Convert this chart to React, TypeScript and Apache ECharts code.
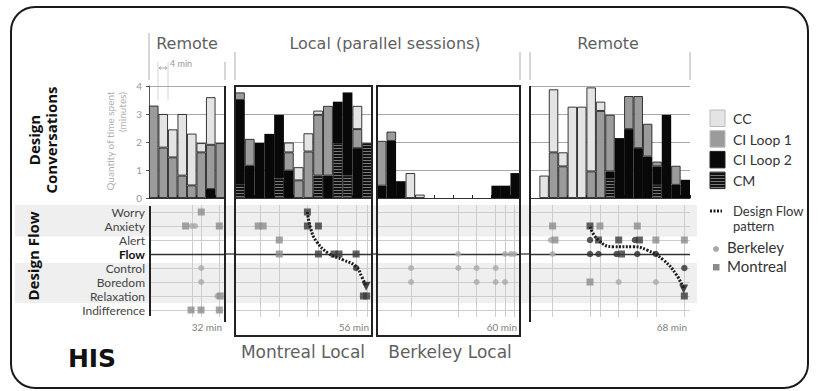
import React, { useEffect, useRef } from "react";
import * as echarts from "echarts";

// ---------- labels ----------
const flowStates = ["Worry", "Anxiety", "Alert", "Flow", "Control", "Boredom", "Relaxation", "Indifference"];
const conversationTypes = ["CM", "CI Loop 2", "CI Loop 1", "CC"]; // stacking order, bottom to top
const legendOrder = ["CC", "CI Loop 1", "CI Loop 2", "CM"];
const quantityTicks = [0, 1, 2, 3, 4];
const sessionMinutes = [32, 56, 60, 68];
const topTitles = ["Remote", "Local (parallel sessions)", "Remote"];
const bottomTitles = ["Montreal Local", "Berkeley Local"];
const sourceLabels = ["Berkeley", "Montreal"];

// ---------- Design conversations (minutes per 4-min slot) ----------
const remoteA_CM = [0, 0, 0, 0, 0, 0, 0, 0];
const remoteA_CI2 = [0, 0, 0, 0, 0, 0, 0.32, 0];
const remoteA_CI1 = [3.3, 1.8, 1.45, 0.8, 0.45, 1.63, 1.58, 1.96];
const remoteA_CC = [0, 1.2, 1.0, 2.2, 1.85, 0.33, 1.7, 0];

const montreal_CM = [0.5, 0, 0, 0, 0.7, 0, 0, 0, 0.8, 0, 1.96, 0.8, 0, 1.96];
const montreal_CI2 = [3.0, 1.15, 1.96, 2.29, 2.27, 0.98, 0, 0, 0, 0.8, 1.48, 2.97, 1.78, 0];
const montreal_CI1 = [0.27, 0.96, 0, 0, 0, 0.65, 0.63, 1.66, 2.17, 2.49, 0, 0, 0.68, 0];
const montreal_CC = [0, 0, 0, 0, 0, 0.35, 0.47, 0.65, 0.15, 0, 0, 0, 0.83, 0];

const berkeley_CM = [0, 0, 0, 0, 0, 0, 0, 0, 0, 0, 0, 0, 0, 0, 0];
const berkeley_CI2 = [0.44, 2.04, 0.6, 0, 0, 0, 0, 0, 0, 0, 0, 0, 0.44, 0.44, 0.89];
const berkeley_CI1 = [1.6, 0.33, 0, 0, 0, 0, 0, 0, 0, 0, 0, 0, 0, 0, 0];
const berkeley_CC = [0, 0, 0, 0.89, 0.12, 0, 0, 0, 0, 0, 0, 0, 0, 0, 0];

const remoteB_CM = [0, 0, 0, 0, 0, 0, 0, 0, 0.7, 0, 0, 0, 0, 0.47, 0, 0, 0];
const remoteB_CI2 = [0, 0, 0, 0, 0, 0, 0, 0, 0.25, 2.14, 2.46, 1.78, 1.48, 0.66, 2.97, 0.47, 0.65];
const remoteB_CI1 = [0, 0, 1.63, 1.13, 0, 0, 0.95, 3.11, 2.02, 0, 1.18, 1.86, 1.17, 0.17, 0, 0.68, 0];
const remoteB_CC = [0, 0.8, 2.25, 0.5, 3.26, 3.26, 3.0, 0.33, 0, 0, 0, 0, 0, 0, 0, 0, 0];

// ---------- Design flow events: [minute, state] ----------
const remoteA_berkeley = [[18, "Anxiety"], [19.4, "Anxiety"], [22, "Control"], [22, "Boredom"], [28.8, "Relaxation"]];
const remoteA_montreal = [[22, "Worry"], [15.4, "Anxiety"], [29.6, "Anxiety"], [30, "Relaxation"], [17.7, "Indifference"], [21.9, "Indifference"], [29.6, "Indifference"]];
const remoteA_gridMinutes = [18, 22, 29.6];

const montreal_montreal = [[9.5, "Anxiety"], [11.5, "Anxiety"], [18.1, "Alert"], [18.1, "Flow"]];
const montreal_patternSquares = [[29.6, "Worry"], [29.6, "Anxiety"], [34.1, "Anxiety"], [34.1, "Flow"], [40.5, "Flow"], [42.5, "Flow"], [49.5, "Flow"], [52.5, "Relaxation"], [53.8, "Relaxation"]];
const montreal_patternCircles = [[49.5, "Control"]];
const montreal_curve = [[29.6, 7], [30.9, 5.83], [33.4, 4.88], [38.2, 4.05], [44.3, 3.57], [49.5, 3.1], [51.8, 2.38], [53.6, 1.7]];
const montreal_gridMinutes = [10.5, 18.1, 29.6, 34.1, 41.6, 49.5, 53.9];

const berkeley_berkeley = [[34.1, "Flow"], [53.7, "Flow"], [56.1, "Flow"], [57.5, "Flow"], [14.3, "Control"], [34.1, "Control"], [41.8, "Control"], [49.8, "Control"], [14.3, "Boredom"], [41.8, "Boredom"], [49.8, "Boredom"], [53.7, "Boredom"]];
const berkeley_gridMinutes = [14.3, 34.1, 41.8, 49.8, 53.7, 57.5];

const remoteB_montreal = [[9.6, "Anxiety"], [29.7, "Anxiety"], [45.6, "Anxiety"], [10.6, "Alert"], [53.5, "Alert"], [65.6, "Alert"], [25.5, "Boredom"]];
const remoteB_berkeley = [[8.8, "Alert"], [9.6, "Flow"], [37.7, "Boredom"], [53.5, "Boredom"]];
const remoteB_patternCircles = [[25.5, "Alert"], [44.6, "Alert"], [25.5, "Flow"], [29.1, "Flow"], [36.8, "Flow"], [45.6, "Flow"], [53.5, "Flow"], [65.6, "Control"]];
const remoteB_patternSquares = [[25.5, "Anxiety"], [29.1, "Alert"], [37.7, "Alert"], [46.5, "Alert"], [38.9, "Flow"], [65.6, "Relaxation"]];
const remoteB_curve = [[25.5, 5.95], [29.0, 5.0], [35.4, 4.52], [43.8, 4.52], [49.6, 4.29], [56.7, 3.57], [62.3, 2.5], [65.3, 1.5]];
const remoteB_gridMinutes = [9.6, 25.5, 29.7, 37.7, 45.6, 53.5, 65.6];

// ---------- layout ----------
const PANEL_X = [[149, 225], [235, 372], [377, 520], [530, 690]];
const BAR_TOP = 86, BAR_H = 112;
const SC_TOP = 205, SC_H = 112;
const SC_MIN = -0.5, SC_MAX = 7.5;
const rowY = (v: number) => SC_TOP + ((SC_MAX - v) / (SC_MAX - SC_MIN)) * SC_H;
const stateValue = (s: string) => flowStates.length - 1 - flowStates.indexOf(s);
const toPts = (arr: any[]) => arr.map((d) => [d[0], stateValue(d[1])]);

export default function App() {
  const ref = useRef<HTMLDivElement>(null);

  useEffect(() => {
    if (!ref.current) return;
    const chart = echarts.init(ref.current, null, { renderer: "svg" });

    const cv = document.createElement("canvas");
    cv.width = 4; cv.height = 3;
    const ctx = cv.getContext("2d")!;
    ctx.fillStyle = "#111"; ctx.fillRect(0, 0, 4, 3);
    ctx.fillStyle = "#7a7a7a"; ctx.fillRect(0, 1, 4, 1);
    const cmPattern: any = { image: cv, repeat: "repeat" };

    const typeColor: Record<string, any> = { CM: cmPattern, "CI Loop 2": "#080808", "CI Loop 1": "#9b9b9b", CC: "#e4e4e4" };

    const panels = [
      { bars: [remoteA_CM, remoteA_CI2, remoteA_CI1, remoteA_CC], berkeley: remoteA_berkeley, montreal: remoteA_montreal, patC: [], patS: [], curve: null as any, grid: remoteA_gridMinutes },
      { bars: [montreal_CM, montreal_CI2, montreal_CI1, montreal_CC], berkeley: [], montreal: montreal_montreal, patC: montreal_patternCircles, patS: montreal_patternSquares, curve: montreal_curve, grid: montreal_gridMinutes },
      { bars: [berkeley_CM, berkeley_CI2, berkeley_CI1, berkeley_CC], berkeley: berkeley_berkeley, montreal: [], patC: [], patS: [], curve: null as any, grid: berkeley_gridMinutes },
      { bars: [remoteB_CM, remoteB_CI2, remoteB_CI1, remoteB_CC], berkeley: remoteB_berkeley, montreal: remoteB_montreal, patC: remoteB_patternCircles, patS: remoteB_patternSquares, curve: remoteB_curve, grid: remoteB_gridMinutes },
    ];

    const grids: any[] = [], xAxes: any[] = [], yAxes: any[] = [], series: any[] = [];
    const rowValues = flowStates.map((_, i) => i);

    panels.forEach((p, i) => {
      const [x0, x1] = PANEL_X[i];
      grids.push({ left: x0, top: BAR_TOP, width: x1 - x0, height: BAR_H, containLabel: false, outerBoundsMode: "none" });
      xAxes.push({
        type: "category", gridIndex: i, data: p.bars[0].map((_, k) => String(k)), boundaryGap: true,
        axisLabel: { show: false }, axisTick: { show: true, inside: true, length: 3, lineStyle: { color: "#222" } },
        axisLine: { show: true, lineStyle: { color: "#333", width: 1.2 } }, splitLine: { show: false },
      });
      yAxes.push({
        type: "value", gridIndex: i, min: 0, max: quantityTicks[quantityTicks.length - 1], interval: 1,
        axisLabel: { show: i === 0, color: "#9a9a9a", fontSize: 10, fontFamily: "Lato", margin: 7 },
        axisTick: { show: i === 0, length: 3, lineStyle: { color: "#555" } },
        axisLine: { show: i === 0, lineStyle: { color: "#555", width: 1 } },
        splitLine: { show: true, lineStyle: { color: "#a8a8a8", width: 1 } },
      });
      p.bars.forEach((arr, k) => {
        const name = conversationTypes[k];
        series.push({
          type: "bar", name, xAxisIndex: i, yAxisIndex: i, stack: "s" + i,
          data: arr.map((v) => (v > 0 ? v : null)), barCategoryGap: "0%", barGap: "0%", silent: true,
          itemStyle: { color: typeColor[name], borderColor: "#222", borderWidth: name === "CI Loop 2" ? 0 : 0.9 },
        });
      });
    });

    panels.forEach((p, i) => {
      const [x0, x1] = PANEL_X[i];
      const gi = 4 + i;
      grids.push({ left: x0, top: SC_TOP, width: x1 - x0, height: SC_H, containLabel: false, outerBoundsMode: "none" });
      xAxes.push({ type: "value", gridIndex: gi, min: 0, max: sessionMinutes[i], show: false });
      yAxes.push({
        type: "value", gridIndex: gi, min: SC_MIN, max: SC_MAX,
        axisLine: { show: false }, axisTick: { show: false }, splitLine: { show: false },
        axisLabel: {
          show: i === 0, customValues: rowValues, margin: 4, fontFamily: "Lato", fontSize: 12, color: "#444",
          formatter: (v: number) => {
            const s = flowStates[flowStates.length - 1 - Math.round(v)];
            return s === "Flow" ? `{b|${s}}` : s;
          },
          rich: { b: { fontWeight: "bold", fontFamily: "Lato", fontSize: 12, color: "#111" } },
        },
      });
      series.push({
        type: "scatter", xAxisIndex: gi, yAxisIndex: gi, data: [], silent: true, z: 1,
        markLine: {
          silent: true, symbol: "none", label: { show: false }, z: 1,
          data: [
            ...p.grid.map((t) => ({ xAxis: t, lineStyle: { color: "#cdcdcd", width: 1, type: "solid" } })),
            ...rowValues.map((v) => ({ yAxis: v, lineStyle: { color: v === stateValue("Flow") ? "#333" : "#cdcdcd", width: v === stateValue("Flow") ? 1.3 : 1, type: "solid" } })),
          ],
        },
      });
      series.push({ type: "scatter", name: "Berkeley", xAxisIndex: gi, yAxisIndex: gi, data: toPts(p.berkeley), symbol: "circle", symbolSize: 6, itemStyle: { color: "#a9a9a9" }, silent: true, z: 6 });
      series.push({ type: "scatter", name: "Montreal", xAxisIndex: gi, yAxisIndex: gi, data: toPts(p.montreal), symbol: "rect", symbolSize: 7, itemStyle: { color: "#8c8c8c" }, silent: true, z: 6 });
      series.push({ type: "scatter", xAxisIndex: gi, yAxisIndex: gi, data: toPts(p.patC), symbol: "circle", symbolSize: 6.5, itemStyle: { color: "#2e2e2e" }, silent: true, z: 7 });
      series.push({ type: "scatter", xAxisIndex: gi, yAxisIndex: gi, data: toPts(p.patS), symbol: "rect", symbolSize: 7, itemStyle: { color: "#3a3a3a" }, silent: true, z: 7 });
      if (p.curve) {
        series.push({
          type: "line", xAxisIndex: gi, yAxisIndex: gi, data: p.curve, smooth: 0.5, symbol: "none", silent: true, z: 8,
          lineStyle: { color: "#1c1c1c", width: 3, type: [2, 1.5] },
        });
        series.push({
          type: "scatter", xAxisIndex: gi, yAxisIndex: gi, data: [p.curve[p.curve.length - 1]], symbol: "triangle",
          symbolRotate: 180, symbolSize: [9, 9], itemStyle: { color: "#1c1c1c" }, silent: true, z: 9,
        });
      }
    });

    const gray = "#c8c8c8";
    const g: any[] = [];
    // background bands
    g.push({ type: "rect", z: -10, shape: { x: 15, y: rowY(7.5), width: 682, height: rowY(5.25) - rowY(7.5) }, style: { fill: "#efefef" } });
    g.push({ type: "rect", z: -10, shape: { x: 15, y: rowY(3.35), width: 682, height: rowY(0.5) - rowY(3.35) }, style: { fill: "#efefef" } });
    // outer border
    g.push({ type: "rect", z: 50, shape: { x: 11, y: 7, width: 797, height: 381, r: 24 }, style: { fill: "none", stroke: "#1a1a1a", lineWidth: 2 } });
    // top titles
    const titleX = [187, 385, 608];
    topTitles.forEach((t, k) => g.push({ type: "text", x: titleX[k], y: 43, style: { text: t, align: "center", verticalAlign: "middle", font: "16px 'DejaVu Sans'", fill: "#5f5f5f" } }));
    // bracket lines
    [[149, 33], [225, 62], [235, 52], [520, 52], [530, 52], [690, 52]].forEach(([x, y0]) =>
      g.push({ type: "line", shape: { x1: x, y1: y0, x2: x, y2: 80 }, style: { stroke: gray, lineWidth: 1.5 } }));
    // 4 min annotation
    [158, 168].forEach((x) => g.push({ type: "line", shape: { x1: x, y1: 62, x2: x, y2: 100 }, style: { stroke: "#d4d4d4", lineWidth: 1 } }));
    g.push({ type: "line", shape: { x1: 159, y1: 68, x2: 167, y2: 68 }, style: { stroke: "#999", lineWidth: 0.8 } });
    g.push({ type: "polyline", shape: { points: [[161, 66.5], [159, 68], [161, 69.5]] }, style: { stroke: "#999", lineWidth: 0.8, fill: "none" } });
    g.push({ type: "polyline", shape: { points: [[165, 66.5], [167, 68], [165, 69.5]] }, style: { stroke: "#999", lineWidth: 0.8, fill: "none" } });
    g.push({ type: "text", x: 170, y: 63, style: { text: "4 min", align: "left", verticalAlign: "middle", font: "9px Lato", fill: "#999" } });
    // y axis title
    g.push({ type: "text", x: 110, y: 141, rotation: Math.PI / 2, style: { text: "Quantity of time spent", align: "center", verticalAlign: "middle", font: "10px Lato", fill: "#b0b0b0" } });
    g.push({ type: "text", x: 122, y: 112, rotation: Math.PI / 2, style: { text: "(minutes)", align: "center", verticalAlign: "middle", font: "10px Lato", fill: "#b0b0b0" } });
    // section labels
    g.push({ type: "text", x: 42, y: 140, rotation: Math.PI / 2, style: { text: "Design\nConversations", align: "center", verticalAlign: "middle", font: "bold 15px 'Open Sans'", lineHeight: 17, fill: "#111" } });
    g.push({ type: "text", x: 33, y: 256, rotation: Math.PI / 2, style: { text: "Design Flow", align: "center", verticalAlign: "middle", font: "bold 15px 'Open Sans'", fill: "#111" } });
    g.push({ type: "text", x: 92, y: 358, style: { text: "HIS", align: "center", verticalAlign: "middle", font: "bold 25px 'DejaVu Sans'", fill: "#111" } });
    // panel borders
    g.push({ type: "line", z: 20, shape: { x1: 225, y1: 86, x2: 225, y2: 322 }, style: { stroke: "#222", lineWidth: 2 } });
    g.push({ type: "line", z: 20, shape: { x1: 530, y1: 86, x2: 530, y2: 322 }, style: { stroke: "#222", lineWidth: 2 } });
    g.push({ type: "line", z: 20, shape: { x1: 150, y1: 206, x2: 150, y2: 316 }, style: { stroke: "#222", lineWidth: 2 } });
    g.push({ type: "rect", z: 20, shape: { x: 235, y: 86, width: 137, height: 250 }, style: { fill: "none", stroke: "#222", lineWidth: 2 } });
    g.push({ type: "rect", z: 20, shape: { x: 377, y: 86, width: 143, height: 250 }, style: { fill: "none", stroke: "#222", lineWidth: 2 } });
    // flow line bridging the gaps between panels
    [[225, 235], [372, 377], [520, 530]].forEach(([a, b]) =>
      g.push({ type: "line", shape: { x1: a, y1: rowY(stateValue("Flow")), x2: b, y2: rowY(stateValue("Flow")) }, style: { stroke: "#333", lineWidth: 1.3 } }));
    // duration labels
    sessionMinutes.forEach((m, k) => g.push({ type: "text", x: PANEL_X[k][1] - 3, y: 327, style: { text: `${m} min`, align: "right", verticalAlign: "middle", font: "10px Lato", fill: "#808080" } }));
    // bottom titles
    [303, 450].forEach((x, k) => g.push({ type: "text", x, y: 352, style: { text: bottomTitles[k], align: "center", verticalAlign: "middle", font: "17px 'DejaVu Sans'", fill: "#5f5f5f" } }));
    // legend: conversation types
    legendOrder.forEach((name, k) => {
      const y = 110 + k * 20.7;
      g.push({ type: "rect", shape: { x: 710, y, width: 15, height: 16.5 }, style: { fill: typeColor[name], stroke: name === "CC" || name === "CI Loop 1" ? "#bbb" : "#222", lineWidth: 1 } });
      g.push({ type: "text", x: 733, y: y + 8.5, style: { text: name, align: "left", verticalAlign: "middle", font: "14px Lato", fill: "#333" } });
    });
    // legend: flow pattern
    g.push({ type: "line", shape: { x1: 710, y1: 211, x2: 722, y2: 211 }, style: { stroke: "#1c1c1c", lineWidth: 3, lineDash: [2, 1.5] } });
    g.push({ type: "text", x: 733, y: 211, style: { text: "Design Flow", align: "left", verticalAlign: "middle", font: "13px Lato", fill: "#333" } });
    g.push({ type: "text", x: 733, y: 226, style: { text: "pattern", align: "left", verticalAlign: "middle", font: "13px Lato", fill: "#333" } });
    g.push({ type: "circle", shape: { cx: 716, cy: 249, r: 3 }, style: { fill: "#a9a9a9" } });
    g.push({ type: "text", x: 727, y: 247, style: { text: sourceLabels[0], align: "left", verticalAlign: "middle", font: "15px Lato", fill: "#333" } });
    g.push({ type: "rect", shape: { x: 713, y: 264, width: 6.5, height: 6.5 }, style: { fill: "#8c8c8c" } });
    g.push({ type: "text", x: 727, y: 266, style: { text: sourceLabels[1], align: "left", verticalAlign: "middle", font: "15px Lato", fill: "#333" } });

    chart.setOption({
      animation: false,
      backgroundColor: "#ffffff",
      grid: grids, xAxis: xAxes, yAxis: yAxes, series,
      graphic: { elements: g },
    });
    return () => chart.dispose();
  }, []);

  return <div ref={ref} style={{ position: "absolute", left: 0, top: 0, width: 818, height: 391 }} />;
}
